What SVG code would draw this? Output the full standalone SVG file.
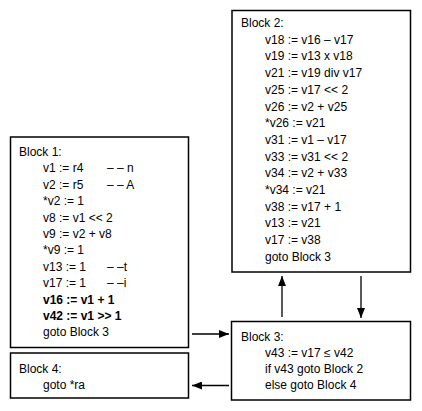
<svg xmlns="http://www.w3.org/2000/svg" width="422" height="411" viewBox="0 0 422 411">
<style>
.box{fill:#fff;stroke:#000;stroke-width:1.5}
text{font-family:"Liberation Sans",Arial,sans-serif;font-size:12px;fill:#000}
.b{font-weight:bold}
.c{stroke:#000;stroke-width:1.3;fill:none;marker-end:url(#ah)}
</style>
<defs>
<marker id="ah" viewBox="0 0 10 8" refX="10" refY="4" markerWidth="10" markerHeight="8" markerUnits="userSpaceOnUse" orient="auto">
<path d="M0,0 L10,4 L0,8 Z" fill="#000"/>
</marker>
</defs>
<rect width="422" height="411" fill="#fff"/>
<g id="block1">
<rect class="box" x="10.5" y="137" width="178" height="210.5"/>
<text x="19" y="156">Block 1:</text>
<text x="43" y="172.4">v1 := r4</text><text x="107" y="172.4">– – n</text>
<text x="43" y="188.8">v2 := r5</text><text x="107" y="188.8">– – A</text>
<text x="43" y="205.2">*v2 := 1</text>
<text x="43" y="221.6">v8 := v1 &lt;&lt; 2</text>
<text x="43" y="238">v9 := v2 + v8</text>
<text x="43" y="254.4">*v9  := 1</text>
<text x="43" y="270.8">v13 := 1</text><text x="107" y="270.8">– –t</text>
<text x="43" y="287.2">v17 := 1</text><text x="107" y="287.2">– –i</text>
<text x="43" y="303.6" class="b">v16 := v1 + 1</text>
<text x="43" y="320" class="b">v42 := v1 &gt;&gt; 1</text>
<text x="43" y="336.4">goto Block 3</text>
</g>
<g id="block2">
<rect class="box" x="232" y="10.5" width="178.5" height="261.5"/>
<text x="241" y="27">Block 2:</text>
<text x="265" y="43.7">v18 := v16 – v17</text>
<text x="265" y="60.4">v19 := v13 x v18</text>
<text x="265" y="77.1">v21 := v19 div v17</text>
<text x="265" y="93.8">v25 := v17 &lt;&lt; 2</text>
<text x="265" y="110.5">v26 := v2 + v25</text>
<text x="265" y="127.2">*v26 := v21</text>
<text x="265" y="143.9">v31 := v1 – v17</text>
<text x="265" y="160.6">v33 := v31 &lt;&lt; 2</text>
<text x="265" y="177.3">v34 := v2 + v33</text>
<text x="265" y="194">*v34 := v21</text>
<text x="265" y="210.7">v38 := v17 + 1</text>
<text x="265" y="227.4">v13 := v21</text>
<text x="265" y="244.1">v17 := v38</text>
<text x="265" y="260.8">goto Block 3</text>
</g>
<g id="block3">
<rect class="box" x="231.5" y="321.5" width="179" height="78.5"/>
<text x="241" y="341">Block 3:</text>
<text x="265" y="357">v43 := v17 ≤ v42</text>
<text x="265" y="373">if v43 goto Block 2</text>
<text x="265" y="389">else goto Block 4</text>
</g>
<g id="block4">
<rect class="box" x="10.5" y="353" width="178" height="45"/>
<text x="19" y="372.5">Block 4:</text>
<text x="43" y="389">goto *ra</text>
</g>
<g id="connectors">
<line class="c" x1="192" y1="334" x2="229" y2="334"/>
<line class="c" x1="229" y1="385.5" x2="192" y2="385.5"/>
<line class="c" x1="282" y1="317" x2="282" y2="276"/>
<line class="c" x1="361" y1="276" x2="361" y2="318"/>
</g>
</svg>
